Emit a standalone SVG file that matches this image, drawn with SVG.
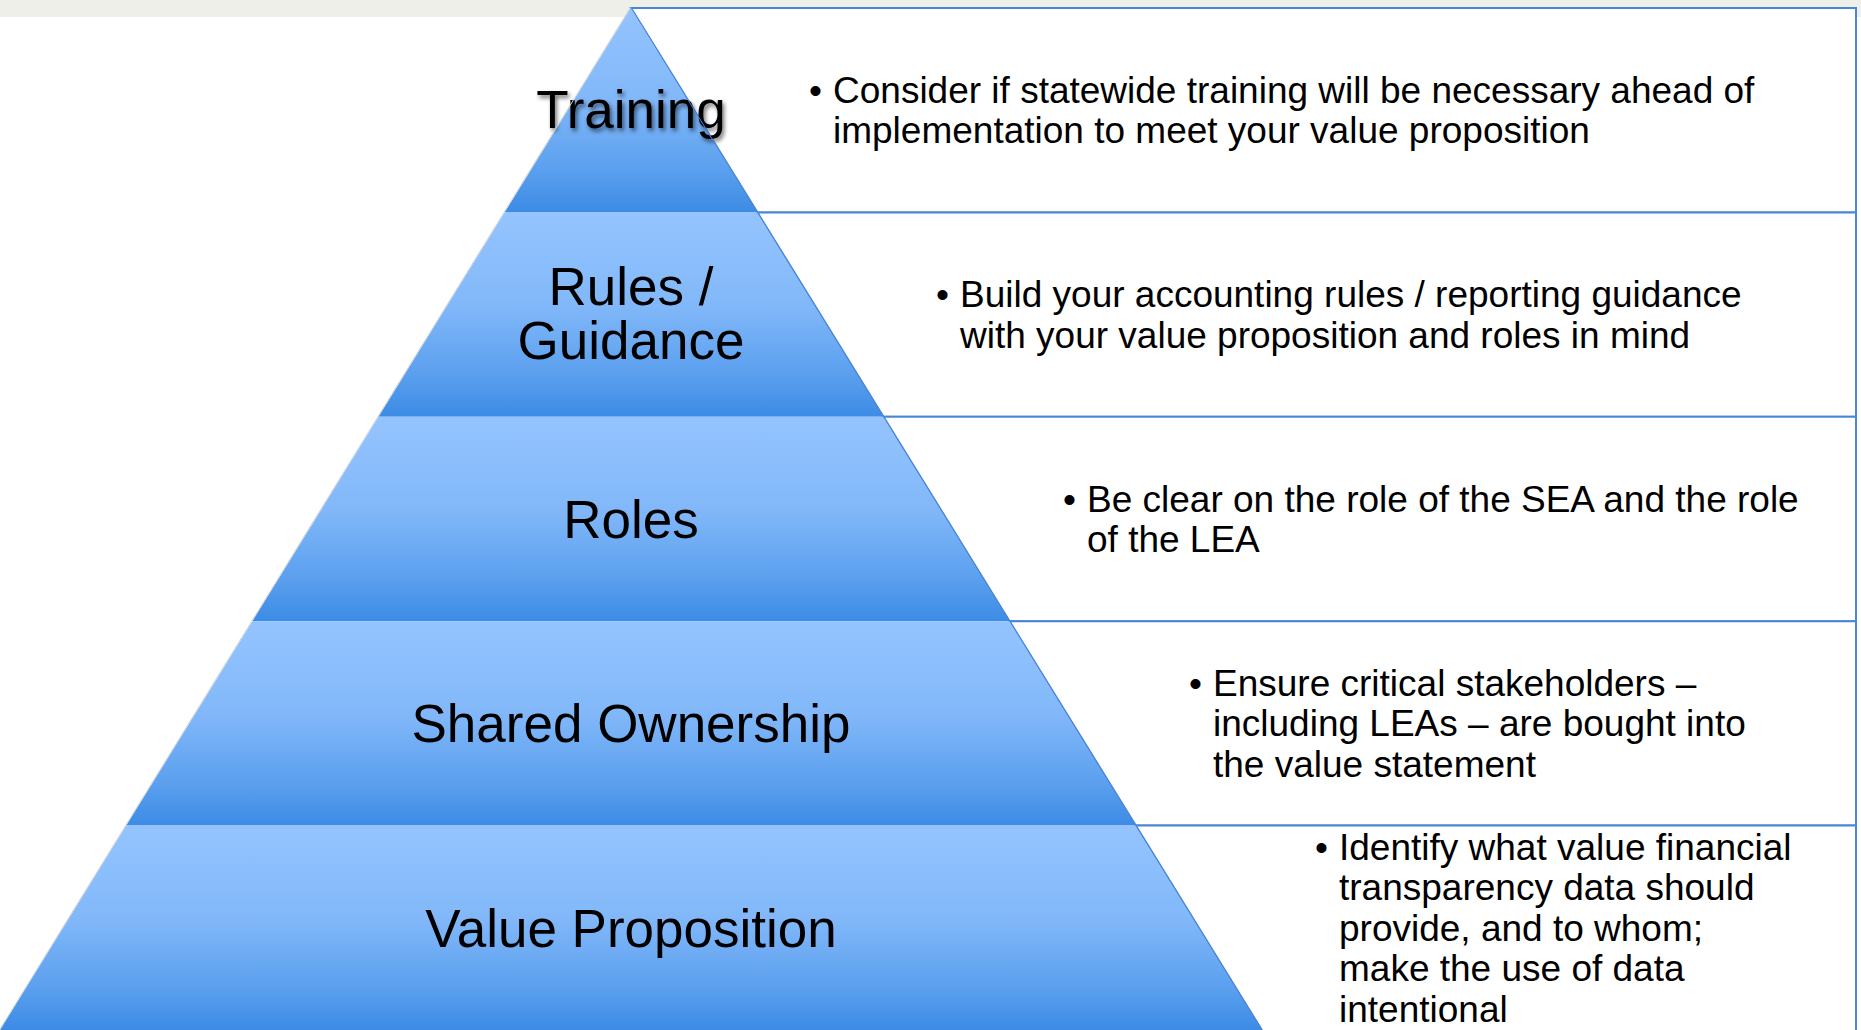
<svg xmlns="http://www.w3.org/2000/svg" width="1861" height="1030" viewBox="0 0 1861 1030">
  <defs>
    <linearGradient id="tierFill" x1="0" y1="0" x2="0" y2="1">
      <stop offset="0" stop-color="#94c4ff"/>
      <stop offset="0.45" stop-color="#82b8f9"/>
      <stop offset="0.8" stop-color="#5a9fee"/>
      <stop offset="1" stop-color="#3c8be5"/>
    </linearGradient>
    <filter id="labelShadow" x="-10%" y="-20%" width="120%" height="150%">
      <feDropShadow dx="2" dy="3" stdDeviation="2" flood-color="#000" flood-opacity="0.55"/>
    </filter>
  </defs>
  <style>
    .band { fill: #efefea; }
    .box { fill: #ffffff; stroke: #4a86d6; stroke-width: 2; }
    .tier { fill: url(#tierFill); }
    .edge { stroke: #cfcfcf; stroke-width: 1; fill: none; }
    .label { font-family: "Liberation Sans", Arial, sans-serif; font-size: 53px; fill: #000; text-anchor: middle; }
    .body { font-family: "Liberation Sans", Arial, sans-serif; font-size: 37px; fill: #000; }
  </style>

  <!-- top strip -->
  <rect class="band" x="0" y="0" width="1861" height="17"/>

  <!-- description boxes, left side follows the pyramid slope -->
  <g id="box-training">
    <polygon class="box" points="631,8 1856,8 1856,212.4 757.4,212.4"/>
    <text class="body" x="809" y="103">•</text>
    <text class="body" x="833" y="103">Consider if statewide training will be necessary ahead of</text>
    <text class="body" x="833" y="143.4">implementation to meet your value proposition</text>
  </g>
  <g id="box-rules">
    <polygon class="box" points="757.4,212.4 1856,212.4 1856,416.8 883.5,416.8"/>
    <text class="body" x="936" y="307.4">•</text>
    <text class="body" x="960" y="307.4">Build your accounting rules / reporting guidance</text>
    <text class="body" x="960" y="347.8">with your value proposition and roles in mind</text>
  </g>
  <g id="box-roles">
    <polygon class="box" points="883.5,416.8 1856,416.8 1856,621.2 1009.6,621.2"/>
    <text class="body" x="1063" y="511.8">•</text>
    <text class="body" x="1087" y="511.8">Be clear on the role of the SEA and the role</text>
    <text class="body" x="1087" y="552.2">of the LEA</text>
  </g>
  <g id="box-ownership">
    <polygon class="box" points="1009.6,621.2 1856,621.2 1856,825.6 1135.8,825.6"/>
    <text class="body" x="1189" y="696">•</text>
    <text class="body" x="1213" y="696">Ensure critical stakeholders –</text>
    <text class="body" x="1213" y="736.4">including LEAs – are bought into</text>
    <text class="body" x="1213" y="776.8">the value statement</text>
  </g>
  <g id="box-value">
    <polygon class="box" points="1135.8,825.6 1856,825.6 1856,1040 1268,1040"/>
    <text class="body" x="1315" y="860">•</text>
    <text class="body" x="1339" y="860">Identify what value financial</text>
    <text class="body" x="1339" y="900.4">transparency data should</text>
    <text class="body" x="1339" y="940.8">provide, and to whom;</text>
    <text class="body" x="1339" y="981.2">make the use of data</text>
    <text class="body" x="1339" y="1021.6">intentional</text>
  </g>

  <!-- pyramid tiers -->
  <g id="tier-training">
    <polygon class="tier" points="631,7.5 757.4,212.4 504.6,212.4"/>
    <text class="label" x="631" y="128" filter="url(#labelShadow)">Training</text>
  </g>
  <g id="tier-rules">
    <polygon class="tier" points="504.6,212.4 757.4,212.4 883.5,416.8 378.5,416.8"/>
    <text class="label" x="631" y="305">Rules /</text>
    <text class="label" x="631" y="359">Guidance</text>
  </g>
  <g id="tier-roles">
    <polygon class="tier" points="378.5,416.8 883.5,416.8 1009.6,621.2 252.4,621.2"/>
    <text class="label" x="631" y="538">Roles</text>
  </g>
  <g id="tier-ownership">
    <polygon class="tier" points="252.4,621.2 1009.6,621.2 1135.8,825.6 126.2,825.6"/>
    <text class="label" x="631" y="742">Shared Ownership</text>
  </g>
  <g id="tier-value">
    <polygon class="tier" points="126.2,825.6 1135.8,825.6 1262,1030 0,1030"/>
    <text class="label" x="631" y="947">Value Proposition</text>
  </g>

  <!-- outline of the pyramid edges -->
  <g id="connectors">
    <line class="edge" x1="630.5" y1="7.5" x2="-0.5" y2="1030"/>
    <line x1="631" y1="7.5" x2="1262" y2="1030" stroke="#4a86d6" stroke-width="1"/>
  </g>
</svg>
